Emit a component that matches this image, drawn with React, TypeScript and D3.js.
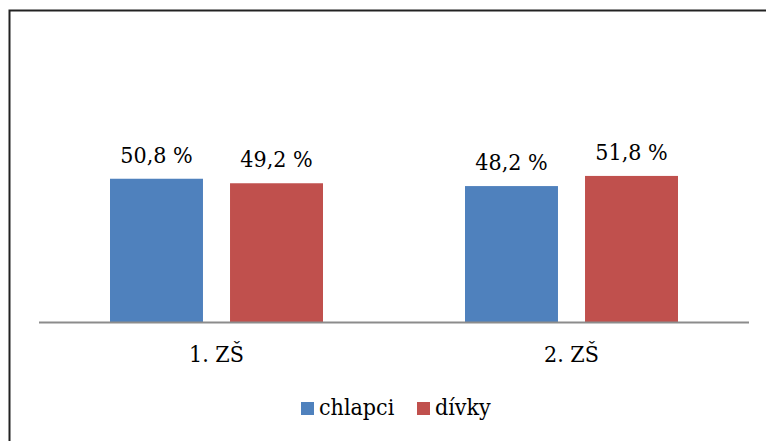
import { useRef, useEffect } from "react";
import * as d3 from "d3";

const categories = ["1. ZŠ", "2. ZŠ"];
const seriesNames = ["chlapci", "dívky"];
const chlapci = [50.8, 48.2];
const divky = [49.2, 51.8];
const colors = ["#4F81BD", "#C0504D"];

const W = 766;
const H = 441;
const FONT = "'DejaVu Serif Condensed', 'DejaVu Serif', serif";

export default function App() {
    const svgRef = useRef<SVGSVGElement | null>(null);

    useEffect(() => {
        if (!svgRef.current) return;
        const svg = d3.select(svgRef.current);
        svg.selectAll("*").remove();

        const plot = { left: 39, right: 749, top: 40, bottom: 322 };

        // chart frame, its right/bottom edges fall outside the picture
        svg.append("rect")
            .attr("x", 9.5).attr("y", 10.5)
            .attr("width", W + 20).attr("height", H + 20)
            .attr("fill", "white")
            .attr("stroke", "#222").attr("stroke-width", 2);

        const x0 = d3.scaleBand<string>()
            .domain(categories)
            .range([plot.left, plot.right]);

        const groupW = 213;
        const x1 = d3.scaleBand<string>()
            .domain(seriesNames)
            .range([0, groupW])
            .paddingInner(24 / 106.5);

        const y = d3.scaleLinear()
            .domain([0, 100])
            .range([plot.bottom, plot.top]);

        const values = [chlapci, divky];
        const rows = categories.flatMap((c, ci) =>
            seriesNames.map((s, si) => ({ cat: c, series: s, si, value: values[si][ci] }))
        );

        const barX = (d: { cat: string; series: string }) =>
            x0(d.cat)! + (x0.bandwidth() - groupW) / 2 + x1(d.series)!;

        const txt = (sel: any) =>
            sel.style("font-family", FONT)
                .style("font-stretch", "condensed")
                .style("font-size", "23px")
                .attr("fill", "#000");

        svg.append("g")
            .selectAll("rect")
            .data(rows)
            .enter()
            .append("rect")
            .attr("x", d => barX(d))
            .attr("y", d => y(d.value))
            .attr("width", x1.bandwidth())
            .attr("height", d => y(0) - y(d.value))
            .attr("fill", d => colors[d.si]);

        // value labels
        svg.append("g")
            .selectAll("text")
            .data(rows)
            .enter()
            .append("text")
            .attr("x", d => barX(d) + x1.bandwidth() / 2)
            .attr("y", d => y(d.value) - 16)
            .attr("text-anchor", "middle")
            .call(txt)
            .text(d => `${d3.format(".1f")(d.value).replace(".", ",")} %`);

        // category axis line
        svg.append("line")
            .attr("x1", plot.left).attr("x2", plot.right)
            .attr("y1", plot.bottom + 0.5).attr("y2", plot.bottom + 0.5)
            .attr("stroke", "#8C8C8C").attr("stroke-width", 2);

        svg.append("g")
            .selectAll("text")
            .data(categories)
            .enter()
            .append("text")
            .attr("x", d => x0(d)! + x0.bandwidth() / 2)
            .attr("y", 362)
            .attr("text-anchor", "middle")
            .call(txt)
            .text(d => d);

        // legend
        const legendX = [301, 417];
        const lg = svg.append("g");
        seriesNames.forEach((s, i) => {
            lg.append("rect")
                .attr("x", legendX[i]).attr("y", 402)
                .attr("width", 13).attr("height", 13)
                .attr("fill", colors[i]);
            lg.append("text")
                .attr("x", legendX[i] + 18).attr("y", 415)
                .call(txt)
                .text(s);
        });
    }, []);

    return (
        <svg
            ref={svgRef}
            width={W}
            height={H}
            style={{ position: "absolute", left: 0, top: 0, background: "white" }}
        />
    );
}
